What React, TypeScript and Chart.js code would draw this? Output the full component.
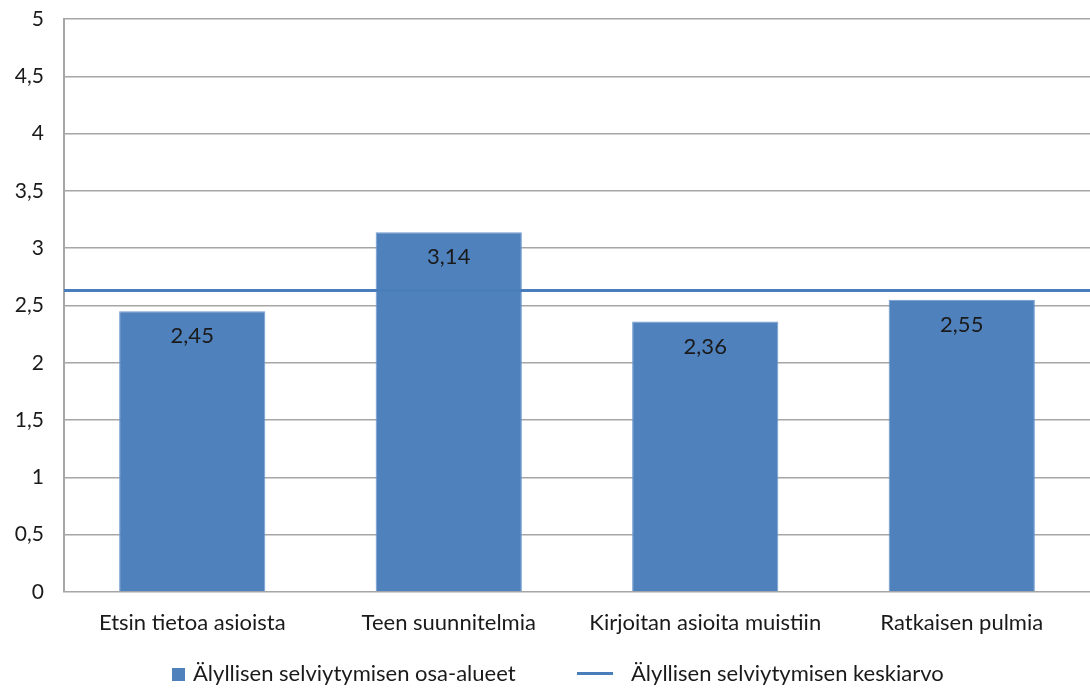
import React, { useEffect, useRef } from "react";
import { Chart, registerables } from "chart.js";

Chart.register(...registerables);

// Categories and values
const categories = [
  "Etsin tietoa asioista",
  "Teen suunnitelmia",
  "Kirjoitan asioita muistiin",
  "Ratkaisen pulmia",
];
const areaValues = [2.45, 3.14, 2.36, 2.55];
const averageValue = [2.63];
const seriesNames = [
  "Älyllisen selviytymisen osa-alueet",
  "Älyllisen selviytymisen keskiarvo",
];
const yTicks = [0, 0.5, 1, 1.5, 2, 2.5, 3, 3.5, 4, 4.5, 5];

const FONT = "Lato, 'Open Sans', sans-serif";
const TICK_SIZE = 21;
const LABEL_SIZE = 22;
const BAR_BLUE = "#4f81bd";
const LINE_BLUE = "#4a7ebb";
const GRID = "#a6a6a6";
const TEXT = "#1a1a1a";

const fmt = (v: number) => String(v).replace(".", ",");

// Average line across the whole plot area, placed with the y scale
const averageLine = {
  id: "averageLine",
  afterDatasetsDraw(chart: any) {
    const { ctx, chartArea, scales } = chart;
    const y = scales.y.getPixelForValue(averageValue[0]);
    ctx.save();
    ctx.strokeStyle = LINE_BLUE;
    ctx.lineWidth = 3;
    ctx.beginPath();
    ctx.moveTo(chartArea.left, y);
    ctx.lineTo(chartArea.right, y);
    ctx.stroke();
    ctx.restore();
  },
};

// Value labels written inside the top of each bar
const barValueLabels = {
  id: "barValueLabels",
  afterDatasetsDraw(chart: any) {
    const meta = chart.getDatasetMeta(0);
    const ctx = chart.ctx;
    ctx.save();
    ctx.font = `${LABEL_SIZE}px ${FONT}`;
    ctx.fillStyle = TEXT;
    ctx.textAlign = "center";
    ctx.textBaseline = "middle";
    meta.data.forEach((bar: any, i: number) => {
      ctx.fillText(fmt(areaValues[i]), bar.x, bar.y + 25);
    });
    ctx.restore();
  },
};

export default function App() {
  const canvasRef = useRef<HTMLCanvasElement | null>(null);

  useEffect(() => {
    if (!canvasRef.current) return;
    const chart = new Chart(canvasRef.current, {
      type: "bar",
      data: {
        labels: categories,
        datasets: [
          {
            label: seriesNames[0],
            data: areaValues,
            backgroundColor: BAR_BLUE,
            borderColor: "#6f9bd0",
            borderWidth: 1,
            barPercentage: 0.57,
            categoryPercentage: 1,
          },
        ],
      },
      options: {
        animation: false,
        responsive: false,
        maintainAspectRatio: false,
        layout: { padding: { top: 19, right: 0, bottom: 47, left: 0 } },
        plugins: {
          legend: { display: false },
          tooltip: { enabled: false },
        },
        scales: {
          x: {
            type: "category",
            grid: { display: false, drawTicks: false },
            border: { display: false },
            ticks: {
              color: TEXT,
              font: { family: FONT, size: LABEL_SIZE },
              padding: 18,
              maxRotation: 0,
            },
            afterFit: (s: any) => {
              s.height = 50;
              s.paddingLeft = 0;
              s.paddingRight = 0;
            },
          },
          y: {
            min: 0,
            max: 5,
            afterBuildTicks: (s: any) => {
              s.ticks = yTicks.map((v) => ({ value: v }));
            },
            ticks: {
              color: TEXT,
              font: { family: FONT, size: TICK_SIZE },
              padding: 20,
              callback: (v: any) => fmt(Number(v)),
            },
            grid: { color: GRID, lineWidth: 1.5, drawTicks: false },
            border: { display: true, color: GRID, width: 2 },
            afterFit: (s: any) => {
              s.width = 64;
              s.paddingTop = 0;
              s.paddingBottom = 0;
            },
          },
        },
      },
      plugins: [averageLine, barValueLabels],
    });
    return () => chart.destroy();
  }, []);

  const legendText: React.CSSProperties = {
    position: "absolute",
    top: 661,
    fontFamily: FONT,
    fontSize: LABEL_SIZE,
    color: TEXT,
    whiteSpace: "nowrap",
    lineHeight: "24px",
  };

  return (
    <div
      style={{
        position: "fixed",
        left: 0,
        top: 0,
        width: 1090,
        height: 689,
        background: "#ffffff",
        overflow: "hidden",
      }}
    >
      <canvas ref={canvasRef} width={1090} height={689} />
      <div
        style={{
          position: "absolute",
          left: 172,
          top: 668,
          width: 13,
          height: 13,
          background: BAR_BLUE,
        }}
      />
      <div style={{ ...legendText, left: 193 }}>{seriesNames[0]}</div>
      <div
        style={{
          position: "absolute",
          left: 577,
          top: 672,
          width: 36,
          height: 3,
          background: LINE_BLUE,
        }}
      />
      <div style={{ ...legendText, left: 631 }}>{seriesNames[1]}</div>
    </div>
  );
}
